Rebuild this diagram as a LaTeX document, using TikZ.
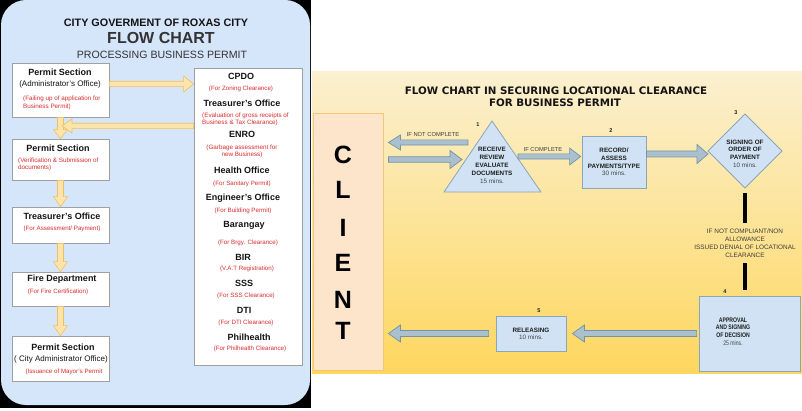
\documentclass[tikz,border=0pt]{standalone}
\usepackage{fontspec}
\setmainfont{Liberation Sans}
\newfontfamily\djv{DejaVu Sans}
\newfontfamily\narrowsans[FakeStretch=0.78]{Liberation Sans}
\usetikzlibrary{calc}
\definecolor{panelblue}{RGB}{213,229,250}
\definecolor{boxgray}{RGB}{160,160,160}
\definecolor{txtblack}{RGB}{20,20,20}
\definecolor{darkgraythree}{RGB}{51,51,51}
\definecolor{redtxt}{RGB}{215,45,45}
\definecolor{oarrfill}{RGB}{255,229,170}
\definecolor{oarrline}{RGB}{240,190,100}
\definecolor{barrfill}{RGB}{170,192,206}
\definecolor{barrline}{RGB}{118,146,163}
\definecolor{shfill}{RGB}{208,226,243}
\definecolor{shline}{RGB}{140,165,185}
\definecolor{shtext}{RGB}{30,30,30}
\definecolor{minsgray}{RGB}{70,70,70}
\definecolor{condtext}{RGB}{60,60,60}
\definecolor{clientfill}{RGB}{253,229,204}
\definecolor{clientline}{RGB}{243,200,120}
\definecolor{ytop}{RGB}{251,240,208}
\definecolor{ybot}{RGB}{254,215,95}
\newcommand{\minst}[1]{{\mdseries\color{minsgray}#1}}
% block arrow: style, start, tip, half shaft, half head, head length
\newcommand{\blockarrow}[6]{%
  \coordinate (bas) at (#2);
  \coordinate (bat) at (#3);
  \coordinate (bah) at ($(bat)!#6!(bas)$);
  \draw[#1] ($(bas)!#4!90:(bat)$) -- ($(bah)!#4!-90:(bas)$) -- ($(bah)!#5!-90:(bas)$) -- (bat)
     -- ($(bah)!#5!90:(bas)$) -- ($(bah)!#4!90:(bas)$) -- ($(bas)!#4!-90:(bat)$) -- cycle;
}
\begin{document}
\begin{tikzpicture}[x=1pt,y=-1pt,
  lbox/.style={draw=boxgray, fill=white, line width=0.7pt, inner sep=0pt},
  hdt/.style={font=\bfseries\fontsize{9}{10}\selectfont, text=txtblack, inner sep=0pt, text depth=0pt},
  subt/.style={font=\fontsize{8}{9}\selectfont, text=txtblack, inner sep=0pt, text depth=0pt},
  redt/.style={font=\fontsize{6.2}{8.2}\selectfont, text=redtxt, inner sep=0pt, text depth=0pt},
  oarr/.style={fill=oarrfill, draw=oarrline, line width=0.6pt},
  barr/.style={fill=barrfill, draw=barrline, line width=0.7pt},
  sh/.style={fill=shfill, draw=shline, line width=0.8pt},
  shtxt/.style={font=\bfseries\fontsize{6.3}{7.8}\selectfont, text=shtext, align=center, inner sep=0pt, text depth=0pt},
  numt/.style={font=\bfseries\fontsize{5.5}{6}\selectfont, text=shtext, inner sep=0pt},
  condt/.style={font=\fontsize{5.8}{7}\selectfont, text=condtext, inner sep=0pt, text depth=0pt},
  clientl/.style={font=\bfseries\fontsize{25}{25}\selectfont, text=black, inner sep=0pt, text depth=0pt}
]
\useasboundingbox (0,0) rectangle (802,411);
\fill[white] (0,0) rectangle (802,411);
% ---------- left panel ----------
\fill[black] (0,0) rectangle (311,408);
\fill[panelblue, rounded corners=25pt] (1,0) rectangle (310,405);
\node[font=\bfseries\fontsize{10.8}{12}\selectfont, text=txtblack, text depth=0pt] (lt1) at (156,23) {CITY GOVERMENT OF ROXAS CITY};
\node[font=\bfseries\fontsize{16}{18}\selectfont, text=darkgraythree, text depth=0pt] (lt2) at (161,38) {FLOW CHART};
\node[font=\fontsize{10.6}{12}\selectfont, text=darkgraythree, text depth=0pt] (lt3) at (162,55) {PROCESSING BUSINESS PERMIT};

\node[lbox, minimum width=97pt, minimum height=54pt] (A) at (60.5,90) {};
\node[hdt] (A1) at (60,72) {Permit Section};
\node[subt] (A2) at (60,84) {(Administrator's Office)};
\node[redt, align=left, anchor=west, font=\fontsize{6.3}{8.4}\selectfont] (A3) at (23,102.5) {(Failing up of application for\\Business Permit)};

\node[lbox, minimum width=97pt, minimum height=41pt] (B) at (60.5,159.5) {};
\node[hdt] (B1) at (58,148) {Permit Section};
\node[redt, align=left, anchor=west, font=\fontsize{6.3}{7.4}\selectfont] (B2) at (18,163.7) {(Verification \& Submission of\\documents)};

\node[lbox, minimum width=97pt, minimum height=36pt] (C) at (60.5,225) {};
\node[hdt] (C1) at (62,216) {Treasurer's Office};
\node[redt] (C2) at (62,228) {(For Assessment/ Payment)};

\node[lbox, minimum width=97pt, minimum height=34pt] (D) at (60.5,289) {};
\node[hdt] (D1) at (62,278) {Fire Department};
\node[redt] (D2) at (58,291) {(For Fire Certification)};

\node[lbox, minimum width=97pt, minimum height=45pt] (E) at (60.5,358.5) {};
\node[hdt] (E1) at (63,347) {Permit Section};
\node[subt] (E2) at (61,359) {( City Administrator Office)};
\node[redt] (E3) at (64,371) {(Issuance of Mayor's Permit};

\node[lbox, minimum width=108pt, minimum height=297pt] (col) at (248,216.5) {};
\node[hdt] (c1) at (241,76) {CPDO};
\node[redt] (c1r) at (241,88) {(For Zoning Clearance)};
\node[hdt] (c2) at (242,103) {Treasurer's Office};
\node[redt, align=left, anchor=west, font=\fontsize{6.3}{7.2}\selectfont] (c2r) at (202,118.5) {(Evaluation of gross receipts of\\Business \& Tax Clearance)};
\node[hdt] (c3) at (242,134) {ENRO};
\node[redt, align=center, font=\fontsize{6.3}{7.2}\selectfont] (c3r) at (242,150.5) {(Garbage assessment for\\new Business)};
\node[hdt] (c4) at (242,170) {Health Office};
\node[redt] (c4r) at (242,183) {(For Sanitary Permit)};
\node[hdt] (c5) at (243,197) {Engineer's Office};
\node[redt] (c5r) at (243,210) {(For Building Permit)};
\node[hdt] (c6) at (244,224) {Barangay};
\node[redt] (c6r) at (248,242) {(For Brgy. Clearance)};
\node[hdt] (c7) at (243,257) {BIR};
\node[redt] (c7r) at (247,268) {(V.A.T Registration)};
\node[hdt] (c8) at (244,283) {SSS};
\node[redt] (c8r) at (246,295) {(For SSS Clearance)};
\node[hdt] (c9) at (244,310) {DTI};
\node[redt] (c9r) at (246,322) {(For DTI Clearance)};
\node[hdt] (c10) at (249,337) {Philhealth};
\node[redt] (c10r) at (250,348) {(For Philhealth Clearance)};

\coordinate (mAB) at (62,126);
\blockarrow{oarr}{A.south}{B.north}{3pt}{7pt}{9pt}
\blockarrow{oarr}{A2 -| A.east}{A2 -| col.west}{2.7pt}{8pt}{10pt}
\blockarrow{oarr}{col.west |- mAB}{mAB}{2.7pt}{7pt}{10pt}
\blockarrow{oarr}{B.south}{C.north}{3pt}{7pt}{10pt}
\blockarrow{oarr}{C.south}{D.north}{3pt}{7pt}{10pt}
\blockarrow{oarr}{D.south}{E.north}{3pt}{7pt}{10pt}

% ---------- right panel ----------
\shade[top color=ytop, bottom color=ybot] (312,72) rectangle (802,373);
\node[font=\djv\bfseries\fontsize{10.3}{12}\selectfont, text=txtblack, text depth=0pt] (rt1) at (556,91) {FLOW CHART IN SECURING LOCATIONAL CLEARANCE};
\node[font=\djv\bfseries\fontsize{10.3}{12}\selectfont, text=txtblack, text depth=0pt] (rt2) at (555,103) {FOR BUSINESS PERMIT};

\node[draw=clientline, fill=clientfill, line width=0.8pt, minimum width=70pt, minimum height=257pt, inner sep=0pt] (client) at (348,241.5) {};
\node[clientl] (lC) at (343,155) {C};
\node[clientl] (lL) at (343,190) {L};
\node[clientl] (lI) at (343,228) {I};
\node[clientl] (lE) at (343,263) {E};
\node[clientl] (lN) at (343,300) {N};
\node[clientl] (lT) at (343,331) {T};

% triangle 1
\coordinate (triA) at (492,121);
\coordinate (triR) at (541,192);
\coordinate (triL) at (444,192);
\draw[sh] (triA) -- (triR) -- (triL) -- cycle;
\node[shtxt, font=\bfseries\fontsize{6.3}{8}\selectfont] (t1) at (492,165) {RECEIVE\\REVIEW\\EVALUATE\\DOCUMENTS\\\minst{15 mins.}};
\node[numt] (n1) at (478,125) {1};

% box 2
\node[sh, shtxt, minimum width=64pt, minimum height=52pt] (b2) at (614,162) {RECORD/\\ASSESS\\PAYMENTS/TYPE\\\minst{30 mins.}};
\node[numt] (n2) at (611,131) {2};

% diamond 3
\coordinate (d3T) at (745,114);
\coordinate (d3R) at (782,151);
\coordinate (d3B) at (745,188);
\coordinate (d3L) at (708,151);
\draw[sh] (d3T) -- (d3R) -- (d3B) -- (d3L) -- cycle;
\node[shtxt, font=\bfseries\fontsize{6.3}{7.7}\selectfont] (t3) at (745,153.5) {SIGNING OF\\ORDER OF\\PAYMENT\\\minst{10 mins.}};
\node[numt] (n3) at (736,113) {3};

% box 4
\node[sh, minimum width=101pt, minimum height=75pt, inner sep=0pt] (b4) at (749.5,333.5) {};
\node[shtxt, font=\narrowsans\bfseries\fontsize{6.6}{7.7}\selectfont] (t4) at (733,331.5) {APPROVAL\\AND SIGNING\\OF DECISION\\\minst{25 mins.}};
\node[numt] (n4) at (725,292) {4};

% box 5
\node[sh, shtxt, font=\bfseries\fontsize{6.3}{7}\selectfont, minimum width=70pt, minimum height=35pt] (b5) at (531,333.5) {RELEASING\\\minst{10 mins.}};
\node[numt] (n5) at (539,311) {5};

% condition text and bars
\node[condt, align=center, font=\fontsize{6.4}{7.9}\selectfont] (nc) at (745,243) {IF NOT COMPLIANT/NON\\ALLOWANCE\\ISSUED DENIAL OF LOCATIONAL\\CLEARANCE};
\draw[line width=4.5pt] ($(d3B)+(0,5)$) -- ($(d3B |- nc.north)+(0,-6)$);
\draw[line width=4.5pt] ($(nc.south)+(0,6)$) -- ($(nc.south |- b4.north)+(0,-6)$);

% arrows
\coordinate (incS) at (468,142.5);
\coordinate (triIn) at (462,159.5);
\coordinate (cmpS) at (518,156.5);
\blockarrow{barr}{incS}{$(client.east |- incS)+(5,0)$}{2.6pt}{7.5pt}{12pt}
\blockarrow{barr}{$(client.east |- triIn)+(5,0)$}{triIn}{2.8pt}{9pt}{12pt}
\blockarrow{barr}{cmpS}{$(b2.west |- cmpS)+(-1,0)$}{2.6pt}{8.5pt}{11pt}
\blockarrow{barr}{$(b2.east)+(0,-8)$}{$(d3L)+(0,3)$}{3pt}{9.5pt}{11pt}
\blockarrow{barr}{$(b4.west)+(-2,0)$}{$(b5.east)+(6,0)$}{3pt}{8.5pt}{12pt}
\blockarrow{barr}{$(b5.west)+(-7,0)$}{$(client.east |- b5.west)+(5,0)$}{3pt}{8.5pt}{12pt}
\node[condt] (lnc) at (433,134) {IF NOT COMPLETE};
\node[condt] (lc) at (543,149) {IF COMPLETE};
\end{tikzpicture}
\end{document}
